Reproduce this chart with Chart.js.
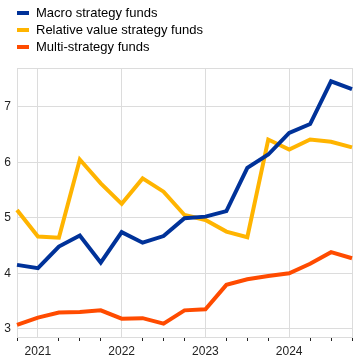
<!DOCTYPE html>
<html>
<head>
<meta charset="utf-8">
<script src="https://cdn.jsdelivr.net/npm/chart.js@4"></script>
<style>
html,body{margin:0;padding:0;background:#fff;}
#wrap{position:relative;width:357px;height:359px;}
#legend{position:absolute;left:17px;top:4px;font-family:"Liberation Sans",Arial,sans-serif;font-size:13px;color:#000;}
.item{height:17px;line-height:17px;white-space:nowrap;}
.sw{display:inline-block;width:12px;height:4px;vertical-align:middle;margin-right:7px;position:relative;top:-1px;}
canvas{position:absolute;left:0;top:0;}
</style>
</head>
<body>
<div id="wrap">
<canvas id="c" width="357" height="359"></canvas>
<div id="legend"></div>
</div>
<script>
const categories = ["2020 Q4","2021 Q1","2021 Q2","2021 Q3","2021 Q4","2022 Q1","2022 Q2","2022 Q3","2022 Q4","2023 Q1","2023 Q2","2023 Q3","2023 Q4","2024 Q1","2024 Q2","2024 Q3","2024 Q4"];
const xTickLabels = ["","2021","","","","2022","","","","2023","","","","2024","","",""];
const seriesNames = ["Macro strategy funds","Relative value strategy funds","Multi-strategy funds"];
const macro = [4.15,4.09,4.48,4.68,4.19,4.74,4.55,4.67,4.99,5.02,5.12,5.90,6.14,6.53,6.69,7.46,7.32];
const relativeValue = [5.14,4.66,4.64,6.05,5.62,5.25,5.71,5.47,5.05,4.96,4.75,4.65,6.41,6.23,6.41,6.37,6.27];
const multi = [3.07,3.20,3.29,3.30,3.33,3.18,3.19,3.09,3.33,3.35,3.79,3.89,3.95,4.00,4.17,4.38,4.27];
const yTicks = [3,4,5,6,7];
const colors = ["#003299","#ffb400","#ff4b00"];

const seriesData = [macro, relativeValue, multi];
const legend = document.getElementById('legend');
seriesNames.forEach((n,i)=>{
  const d=document.createElement('div');d.className='item';
  const s=document.createElement('span');s.className='sw';s.style.background=colors[i];
  d.appendChild(s);d.appendChild(document.createTextNode(n));legend.appendChild(d);
});

const yearIdx = xTickLabels.map((l,i)=>l!==''?i:-1).filter(i=>i>=0);
const gridCol = '#dcdcdc';

new Chart(document.getElementById('c'), {
  type: 'line',
  data: {
    labels: categories,
    datasets: seriesNames.map((n,i)=>({
      label:n, data:seriesData[i], borderColor:colors[i], backgroundColor:colors[i],
      borderWidth:4, pointRadius:0, tension:0, fill:false, borderJoinStyle:'miter', borderCapStyle:'butt'
    }))
  },
  options: {
    responsive:false, animation:false, devicePixelRatio:1,
    layout:{padding:{top:68,right:5,left:0,bottom:0}},
    plugins:{legend:{display:false},tooltip:{enabled:false}},
    scales:{
      x:{
        offset:false,
        grid:{
          color:(ctx)=>{const i=ctx.index; return (i===0||i===categories.length-1||yearIdx.includes(i))?gridCol:'rgba(0,0,0,0)';},
          tickColor:(ctx)=>{const i=ctx.index; return yearIdx.includes(i)?'rgba(0,0,0,0)':'#222';},
          tickLength:4, lineWidth:1, drawTicks:true
        },
        border:{display:true,color:gridCol},
        ticks:{autoSkip:false,maxRotation:0,minRotation:0,padding:3,color:'#222',
          font:{family:'"Liberation Sans", Arial, sans-serif',size:12},
          callback:(v,i)=>xTickLabels[i]},
        afterFit:(s)=>{s.height=22;}
      },
      y:{
        min:2.85, max:7.7,
        afterBuildTicks:(s)=>{s.ticks=[{value:2.85}].concat(yTicks.map(v=>({value:v}))).concat([{value:7.7}]);},
        grid:{color:gridCol,drawTicks:false,lineWidth:1},
        border:{display:true,color:gridCol},
        ticks:{padding:6,color:'#222',font:{family:'"Liberation Sans", Arial, sans-serif',size:12},
          callback:(v)=>yTicks.includes(v)?String(v):''},
        afterFit:(s)=>{s.width=17;}
      }
    }
  }
});
</script>
</body>
</html>
